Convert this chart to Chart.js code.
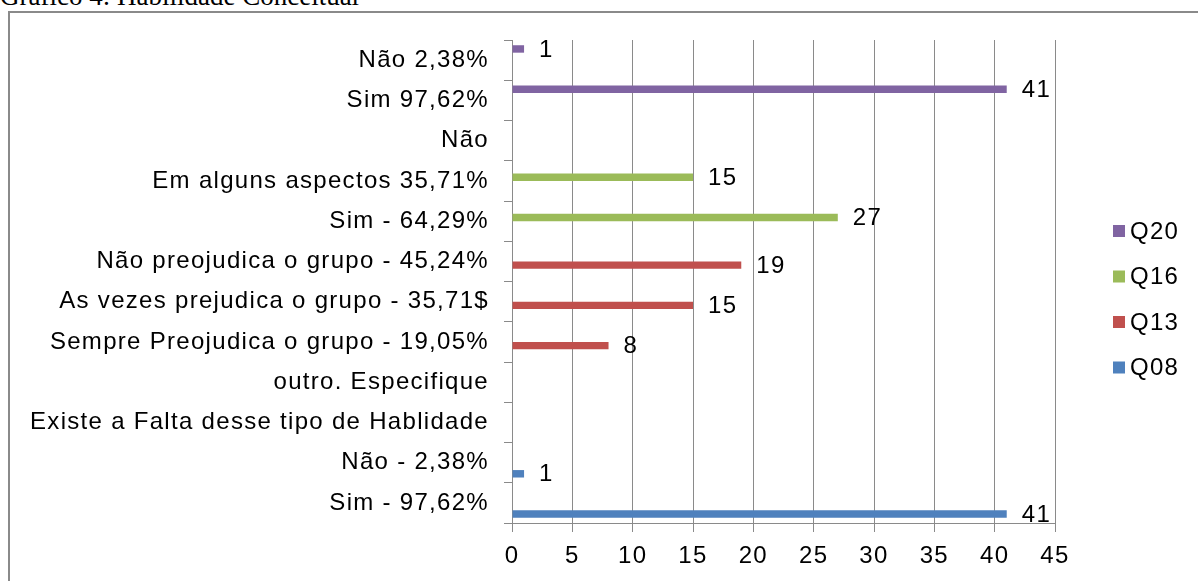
<!DOCTYPE html>
<html>
<head>
<meta charset="utf-8">
<script src="https://cdn.jsdelivr.net/npm/chart.js@4/dist/chart.umd.min.js"></script>
<style>
  body { margin: 0; background: #fff; overflow: hidden; }
  #titulo { position: absolute; left: 0; top: -17px; font: 27px "Liberation Serif", "Times New Roman", serif; line-height: 27px; color: #000; white-space: nowrap; }
  #moldura { position: absolute; left: 8px; top: 11px; width: 1300px; height: 700px; border: 2px solid #8a8a8a; }
  #grafico { position: absolute; left: 0; top: 0; }
</style>
</head>
<body>
<div id="titulo">Gráfico 4: Habilidade Conceitual</div>
<div id="moldura"></div>
<canvas id="grafico" width="1198" height="581"></canvas>
<script>
const categorias = [
    'Não 2,38%',
    'Sim 97,62%',
    'Não',
    'Em alguns aspectos 35,71%',
    'Sim - 64,29%',
    'Não preojudica o grupo - 45,24%',
    'As vezes prejudica o grupo - 35,71$',
    'Sempre Preojudica o grupo - 19,05%',
    'outro. Especifique',
    'Existe a Falta desse tipo de Hablidade',
    'Não - 2,38%',
    'Sim - 97,62%'
]
const series = ['Q20', 'Q16', 'Q13', 'Q08']
const q20 = [1, 41, null, null, null, null, null, null, null, null, null, null]
const q16 = [null, null, null, 15, 27, null, null, null, null, null, null, null]
const q13 = [null, null, null, null, null, 19, 15, 8, null, null, null, null]
const q08 = [null, null, null, null, null, null, null, null, null, null, 1, 41]
const eixoMin = 0
const eixoMax = 45
const eixoPasso = 5

const cores = ['#8064A2', '#9BBB59', '#C0504D', '#4F81BD']
const fonte = '"Liberation Sans", Arial, sans-serif'
const cinza = '#8a8a8a'

// espaçamento das letras, o canvas perde o estado quando é redimensionado
const espacamento = {
    id: 'espacamento',
    beforeUpdate(chart) { chart.ctx.letterSpacing = '1.3px' },
    beforeDraw(chart) { chart.ctx.letterSpacing = '1.3px' }
}

// valores escritos na ponta de cada barra
const rotulos = {
    id: 'rotulos',
    afterDatasetsDraw(chart) {
        const ctx = chart.ctx
        ctx.save()
        ctx.font = '24px ' + fonte
        ctx.fillStyle = '#000'
        ctx.textAlign = 'left'
        ctx.textBaseline = 'middle'
        chart.data.datasets.forEach((ds, i) => {
            chart.getDatasetMeta(i).data.forEach((bar, j) => {
                if (ds.data[j] == null) return
                ctx.fillText(String(ds.data[j]), bar.x + 15, bar.y + 1)
            })
        })
        ctx.restore()
    }
}

// legenda à direita
const legenda = {
    id: 'legenda',
    afterDraw(chart) {
        const ctx = chart.ctx
        ctx.save()
        ctx.font = '24px ' + fonte
        ctx.textBaseline = 'middle'
        chart.data.datasets.forEach((ds, i) => {
            const y = 231 + i * 45.5
            ctx.fillStyle = ds.backgroundColor
            ctx.fillRect(1113, y - 6, 12, 12)
            ctx.fillStyle = '#000'
            ctx.fillText(ds.label, 1130, y + 1)
        })
        ctx.restore()
    }
}

function drawChart() {
    const valores = [q20, q16, q13, q08]
    const data = {
        labels: categorias,
        datasets: series.map((nome, i) => ({
            label: nome,
            data: valores[i],
            backgroundColor: cores[i],
            borderWidth: 0,
            barPercentage: 1,
            categoryPercentage: 0.74
        }))
    }

    const config = {
        type: 'bar',
        data: data,
        options: {
            indexAxis: 'y',
            responsive: false,
            animation: false,
            devicePixelRatio: 1,
            layout: {padding: {top: 40, right: 143, bottom: 0, left: 0}},
            plugins: {legend: {display: false}, tooltip: {enabled: false}},
            scales: {
                x: {
                    min: eixoMin,
                    max: eixoMax,
                    afterFit: s => { s.height = 58 },
                    ticks: {stepSize: eixoPasso, color: '#000', font: {family: fonte, size: 24}, padding: 10},
                    grid: {color: cinza, tickLength: 9, tickColor: cinza},
                    border: {color: cinza}
                },
                y: {
                    afterFit: s => { s.width = 512 },
                    ticks: {color: '#000', font: {family: fonte, size: 24}, padding: 15, autoSkip: false},
                    grid: {drawOnChartArea: false, tickLength: 8, tickColor: cinza, offset: true},
                    border: {color: cinza}
                }
            }
        },
        plugins: [espacamento, rotulos, legenda]
    }

    new Chart(document.getElementById('grafico'), config)
}

document.addEventListener('DOMContentLoaded', drawChart)
</script>
</body>
</html>
